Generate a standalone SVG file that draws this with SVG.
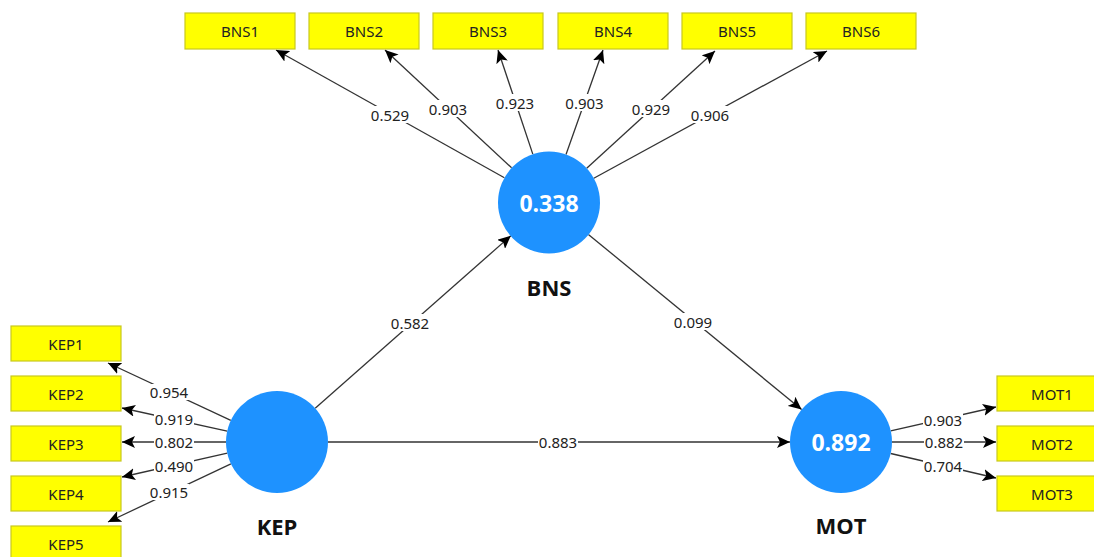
<svg xmlns="http://www.w3.org/2000/svg" width="1094" height="557" viewBox="0 0 1094 557">
<style>
.box{fill:#ffff00;stroke:#c8c81e;stroke-width:1.2}
.bt{font-family:"Noto Sans","Open Sans",sans-serif;font-size:15px;fill:#222;text-anchor:middle;dominant-baseline:central}
.lv{fill:#1e92ff}
.lvt{font-family:"Open Sans","Noto Sans",sans-serif;font-size:23px;font-weight:bold;fill:#fff;text-anchor:middle;dominant-baseline:central}
.lvn{font-family:"Open Sans","Noto Sans",sans-serif;font-size:22px;font-weight:bold;fill:#111;text-anchor:middle;dominant-baseline:central}
.e{stroke:#333;stroke-width:1.3;fill:none;marker-end:url(#ah)}
.lb{fill:#fff}
.lt{font-family:"Noto Sans","Open Sans",sans-serif;font-size:15px;fill:#222;text-anchor:middle;dominant-baseline:central}
</style>
<defs>
<marker id="ah" markerUnits="userSpaceOnUse" markerWidth="14" markerHeight="12" refX="13" refY="6" orient="auto">
<path d="M0,0 L13,6 L0,12 L3,6 Z" fill="#000"/>
</marker>
</defs>
<rect width="1094" height="557" fill="#fff"/>
<g id="connectors">
<line class="e" x1="504.4" y1="177.7" x2="276" y2="50"/>
<line class="e" x1="511.6" y1="167.8" x2="385" y2="50"/>
<line class="e" x1="532.8" y1="154.1" x2="498" y2="50"/>
<line class="e" x1="566" y1="154.5" x2="603" y2="50"/>
<line class="e" x1="586.7" y1="168.2" x2="715" y2="51"/>
<line class="e" x1="593.8" y1="178.2" x2="827" y2="51"/>
<line class="e" x1="230.8" y1="420.4" x2="108" y2="363"/>
<line class="e" x1="227.2" y1="431.1" x2="122" y2="408"/>
<line class="e" x1="226" y1="442" x2="122" y2="442"/>
<line class="e" x1="227.3" y1="453.2" x2="122" y2="477"/>
<line class="e" x1="230.9" y1="463.8" x2="108" y2="522"/>
<line class="e" x1="890.7" y1="430.8" x2="996" y2="407"/>
<line class="e" x1="892" y1="442" x2="996" y2="442"/>
<line class="e" x1="890.7" y1="453.5" x2="996" y2="478"/>
<line class="e" x1="315.2" y1="408.2" x2="510.8" y2="235.8"/>
<line class="e" x1="588.4" y1="234.4" x2="801.6" y2="409.6"/>
<line class="e" x1="328" y1="442" x2="790" y2="442"/>
<g id="edge-labels">
<rect class="lb" x="370" y="106" width="40" height="17"/><text class="lt" x="390" y="114.5">0.529</text>
<rect class="lb" x="428" y="100" width="40" height="17"/><text class="lt" x="448" y="108.5">0.903</text>
<rect class="lb" x="495" y="94" width="40" height="17"/><text class="lt" x="515" y="102.5">0.923</text>
<rect class="lb" x="564" y="94" width="40" height="17"/><text class="lt" x="584.5" y="102.5">0.903</text>
<rect class="lb" x="631" y="100" width="40" height="17"/><text class="lt" x="651" y="108.5">0.929</text>
<rect class="lb" x="690" y="106" width="40" height="17"/><text class="lt" x="710" y="114.5">0.906</text>
<rect class="lb" x="149" y="384" width="40" height="16"/><text class="lt" x="169" y="391.5">0.954</text>
<rect class="lb" x="154" y="411" width="40" height="16"/><text class="lt" x="174" y="418.5">0.919</text>
<rect class="lb" x="154" y="434" width="40" height="16"/><text class="lt" x="174" y="442">0.802</text>
<rect class="lb" x="154" y="458" width="40" height="16"/><text class="lt" x="174" y="466">0.490</text>
<rect class="lb" x="149" y="484" width="40" height="16"/><text class="lt" x="169" y="492">0.915</text>
<rect class="lb" x="923" y="411" width="40" height="16"/><text class="lt" x="943" y="419.5">0.903</text>
<rect class="lb" x="924" y="434" width="40" height="16"/><text class="lt" x="944" y="442">0.882</text>
<rect class="lb" x="923" y="458" width="40" height="16"/><text class="lt" x="943" y="466">0.704</text>
<rect class="lb" x="390" y="314" width="40" height="17"/><text class="lt" x="410" y="322.5">0.582</text>
<rect class="lb" x="673" y="313" width="40" height="17"/><text class="lt" x="693" y="321.5">0.099</text>
<rect class="lb" x="538" y="434" width="40" height="16"/><text class="lt" x="558" y="442">0.883</text>
</g>
</g>
<g id="BNS"><circle class="lv" cx="549" cy="202.5" r="51"/><text class="lvt" x="549" y="202.5">0.338</text><text class="lvn" x="549" y="287">BNS</text></g>
<g id="KEP"><circle class="lv" cx="277" cy="442" r="51"/><text class="lvn" x="277" y="526">KEP</text></g>
<g id="MOT"><circle class="lv" cx="841" cy="442" r="51"/><text class="lvt" x="841" y="442">0.892</text><text class="lvn" x="841" y="525">MOT</text></g>
<g id="BNS1"><rect class="box" x="185" y="13" width="110" height="36"/><text class="bt" x="240" y="31">BNS1</text></g>
<g id="BNS2"><rect class="box" x="309" y="13" width="110" height="36"/><text class="bt" x="364" y="31">BNS2</text></g>
<g id="BNS3"><rect class="box" x="433" y="13" width="110" height="36"/><text class="bt" x="488" y="31">BNS3</text></g>
<g id="BNS4"><rect class="box" x="558" y="13" width="110" height="36"/><text class="bt" x="613" y="31">BNS4</text></g>
<g id="BNS5"><rect class="box" x="682" y="13" width="110" height="36"/><text class="bt" x="737" y="31">BNS5</text></g>
<g id="BNS6"><rect class="box" x="806" y="13" width="110" height="36"/><text class="bt" x="861" y="31">BNS6</text></g>
<g id="KEP1"><rect class="box" x="11" y="326" width="110" height="35"/><text class="bt" x="66" y="343.5">KEP1</text></g>
<g id="KEP2"><rect class="box" x="11" y="376" width="110" height="35"/><text class="bt" x="66" y="393.5">KEP2</text></g>
<g id="KEP3"><rect class="box" x="11" y="426" width="110" height="35"/><text class="bt" x="66" y="443.5">KEP3</text></g>
<g id="KEP4"><rect class="box" x="11" y="476" width="110" height="35"/><text class="bt" x="66" y="493.5">KEP4</text></g>
<g id="KEP5"><rect class="box" x="11" y="526" width="110" height="35"/><text class="bt" x="66" y="543.5">KEP5</text></g>
<g id="MOT1"><rect class="box" x="997" y="376" width="110" height="35"/><text class="bt" x="1052" y="393.5">MOT1</text></g>
<g id="MOT2"><rect class="box" x="997" y="426" width="110" height="35"/><text class="bt" x="1052" y="443.5">MOT2</text></g>
<g id="MOT3"><rect class="box" x="997" y="476" width="110" height="35"/><text class="bt" x="1052" y="493.5">MOT3</text></g>
</svg>
